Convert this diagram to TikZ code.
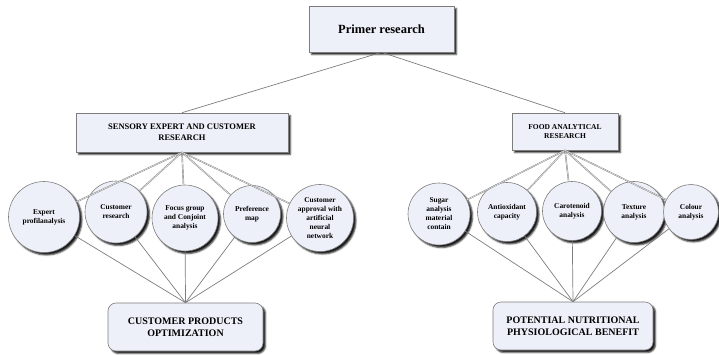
\documentclass[tikz,border=0pt]{standalone}
\usepackage{fontspec}
\setmainfont{Liberation Serif}
\usetikzlibrary{shadows.blur}

\definecolor{boxfill}{RGB}{237,240,249}
\definecolor{edgegray}{RGB}{125,125,125}

\begin{document}
\begin{tikzpicture}[x=1pt,y=1pt]
\tikzset{
  shade/.style={blur shadow={shadow xshift=2.5pt, shadow yshift=-2.5pt,
    shadow blur steps=3, shadow blur radius=1.5pt, shadow opacity=90}},
  headbox/.style={rectangle, draw=edgegray, line width=0.6pt, fill=boxfill,
    align=center, inner sep=0pt, shade},
  resultbox/.style={headbox, rounded corners=8pt, minimum height=48pt,
    font=\fontsize{10}{12.5}\selectfont\bfseries},
  method/.style={circle, draw=edgegray, line width=0.6pt, fill=boxfill,
    align=center, inner sep=0pt, shade, font=\fontsize{7.4}{9}\selectfont\bfseries},
  link/.style={draw=edgegray, line width=0.7pt},
  dlink/.style={draw=edgegray, line width=0.4pt, double=white!80!gray, double distance=0.6pt}
}
\useasboundingbox (0,0) rectangle (719,354);

% top level
\node[headbox, minimum width=145pt, minimum height=46pt,
  font=\fontsize{12.5}{14}\selectfont\bfseries] (primer) at (381.5,325) {Primer research};

% two research branches
\node[headbox, minimum width=212pt, minimum height=39pt,
  font=\fontsize{8.5}{11}\selectfont\bfseries] (sensory) at (182,221.5)
  {SENSORY EXPERT AND CUSTOMER\\RESEARCH};
\node[headbox, minimum width=106pt, minimum height=37pt,
  font=\fontsize{7.5}{9}\selectfont\bfseries] (food) at (565,222.5)
  {FOOD ANALYTICAL\\RESEARCH};

% sensory methods
\node[method, minimum size=71pt] (expert) at (44,137) {Expert\\profilanalysis};
\node[method, minimum size=62pt] (custres) at (116,142) {Customer\\research};
\node[method, minimum size=66pt] (focus) at (185,136) {Focus group\\and Conjoint\\analysis};
\node[method, minimum size=57pt] (prefmap) at (252,140) {Preference\\map};
\node[method, minimum size=67pt] (approval) at (320,136)
  {Customer\\approval with\\artificial\\neural\\network};

% analytical methods
\node[method, minimum size=62pt] (sugar) at (439,140) {Sugar\\analysis\\material\\contain};
\node[method, minimum size=59pt] (antiox) at (507,142) {Antioxidant\\capacity};
\node[method, minimum size=59pt] (carot) at (572,143) {Carotenoid\\analysis};
\node[method, minimum size=61pt] (texture) at (634,142) {Texture\\analysis};
\node[method, minimum size=55pt] (colour) at (691,142) {Colour\\analysis};

% outcomes
\node[resultbox, minimum width=155pt] (optim) at (185.5,27) {CUSTOMER PRODUCTS\\OPTIMIZATION};
\node[resultbox, minimum width=160pt] (benefit) at (573,28) {POTENTIAL NUTRITIONAL\\PHYSIOLOGICAL BENEFIT};

% connectors
\draw[link] (primer.south) -- (sensory.north);
\draw[link] (primer.south) -- (food.north);

\draw[dlink] (sensory.south) -- (expert);
\draw[dlink] (sensory.south) -- (custres);
\draw[dlink] (sensory.south) -- (focus);
\draw[dlink] (sensory.south) -- (prefmap);
\draw[dlink] (sensory.south) -- (approval);

\draw[dlink] (food.south) -- (sugar);
\draw[dlink] (food.south) -- (antiox);
\draw[dlink] (food.south) -- (carot);
\draw[dlink] (food.south) -- (texture);
\draw[dlink] (food.south) -- (colour);

\draw[link] (expert) -- (optim.north);
\draw[link] (custres) -- (optim.north);
\draw[link] (focus) -- (optim.north);
\draw[link] (prefmap) -- (optim.north);
\draw[link] (approval) -- (optim.north);

\draw[link] (sugar) -- (benefit.north);
\draw[link] (antiox) -- (benefit.north);
\draw[link] (carot) -- (benefit.north);
\draw[link] (texture) -- (benefit.north);
\draw[link] (colour) -- (benefit.north);
\end{tikzpicture}
\end{document}
